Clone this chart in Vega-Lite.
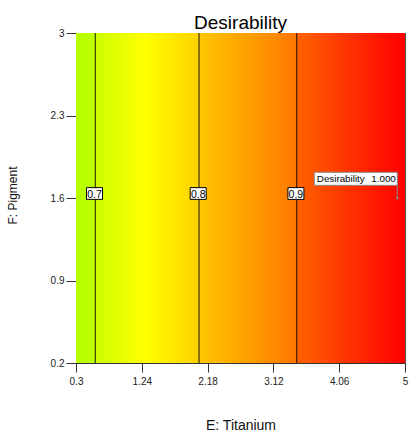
{
  "$schema": "https://vega.github.io/schema/vega-lite/v6.json",
  "width": 329,
  "height": 330,
  "autosize": "none",
  "padding": {"left": 76, "top": 33, "right": 4, "bottom": 70},
  "background": "white",
  "config": {
    "font": "Liberation Sans",
    "view": {"stroke": "#555", "strokeWidth": 1},
    "axis": {
      "grid": false,
      "domainColor": "#333",
      "tickColor": "#333",
      "labelColor": "#222",
      "labelFontSize": 10,
      "labelFlush": false,
      "labelOverlap": false,
      "titleColor": "#111",
      "titleFontWeight": "normal"
    }
  },
  "title": {
    "text": "Desirability",
    "fontSize": 19,
    "fontWeight": "normal",
    "color": "#000",
    "baseline": "bottom",
    "offset": 2,
    "dy": 26,
    "anchor": "middle",
    "frame": "group"
  },
  "datasets": {
    "region": [{"E0": 0.3, "E1": 5, "F0": 0.2, "F1": 3}],
    "contours": [
      {"level": "0.7", "E": 0.576, "F": 1.6},
      {"level": "0.8", "E": 2.057, "F": 1.6},
      {"level": "0.9", "E": 3.453, "F": 1.6}
    ],
    "flag": [{"E": 4.89, "F": 1.6, "name": "Desirability", "value": "1.000"}]
  },
  "layer": [
    {
      "data": {"name": "region"},
      "mark": {
        "type": "rect",
        "fill": {
          "gradient": "linear",
          "x1": 0, "y1": 0, "x2": 1, "y2": 0,
          "stops": [
            {"offset": 0, "color": "#b6ff00"},
            {"offset": 0.058, "color": "#bfff00"},
            {"offset": 0.059, "color": "#ccff00"},
            {"offset": 0.21, "color": "#ffff00"},
            {"offset": 0.373, "color": "#ffd200"},
            {"offset": 0.375, "color": "#ffc600"},
            {"offset": 0.67, "color": "#ff7800"},
            {"offset": 0.672, "color": "#ff6200"},
            {"offset": 1, "color": "#ff0000"}
          ]
        }
      },
      "encoding": {
        "x": {
          "field": "E0", "type": "quantitative",
          "scale": {"domain": [0.3, 5], "nice": false, "zero": false},
          "axis": {
            "title": "E: Titanium",
            "values": [0.3, 1.24, 2.18, 3.12, 4.06, 5],
            "labelExpr": "'' + datum.value",
            "tickSize": 9,
            "labelPadding": 4,
            "titleFontSize": 14,
            "titleY": 66,
            "titleBaseline": "alphabetic"
          }
        },
        "x2": {"field": "E1"},
        "y": {
          "field": "F0", "type": "quantitative",
          "scale": {"domain": [0.2, 3], "nice": false, "zero": false},
          "axis": {
            "title": "F: Pigment",
            "values": [0.2, 0.9, 1.6, 2.3, 3],
            "labelExpr": "'' + datum.value",
            "tickSize": 10,
            "labelPadding": 2,
            "titleFontSize": 12,
            "titleX": -60,
            "titleY": 162,
            "titleAngle": -90,
            "titleAlign": "center",
            "titleBaseline": "alphabetic"
          }
        },
        "y2": {"field": "F1"}
      }
    },
    {
      "data": {"name": "contours"},
      "mark": {"type": "rule", "color": "#000", "opacity": 0.75, "strokeWidth": 1.2},
      "encoding": {"x": {"field": "E", "type": "quantitative"}}
    },
    {
      "data": {"name": "contours"},
      "mark": {
        "type": "point",
        "shape": "M-1,-0.733H1V0.733H-1Z",
        "size": 256,
        "filled": true,
        "fill": "white",
        "stroke": "black",
        "strokeWidth": 1,
        "opacity": 1,
        "xOffset": -0.8,
        "yOffset": -4.5
      },
      "encoding": {
        "x": {"field": "E", "type": "quantitative"},
        "y": {"field": "F", "type": "quantitative"}
      }
    },
    {
      "data": {"name": "contours"},
      "mark": {"type": "text", "fontSize": 10.5, "align": "center", "baseline": "alphabetic", "color": "#000", "dx": -0.8},
      "encoding": {
        "x": {"field": "E", "type": "quantitative"},
        "y": {"field": "F", "type": "quantitative"},
        "text": {"field": "level"}
      }
    },
    {
      "data": {"name": "flag"},
      "mark": {
        "type": "point",
        "shape": "M-83,-25.7H0V-12.7H-83Z M0,-12.7V0",
        "size": 4,
        "filled": true,
        "fill": "white",
        "stroke": "#888",
        "strokeWidth": 1,
        "opacity": 1
      },
      "encoding": {
        "x": {"field": "E", "type": "quantitative"},
        "y": {"field": "F", "type": "quantitative"}
      }
    },
    {
      "data": {"name": "flag"},
      "mark": {"type": "point", "shape": "square", "size": 6, "filled": true, "color": "#888", "opacity": 1},
      "encoding": {
        "x": {"field": "E", "type": "quantitative"},
        "y": {"field": "F", "type": "quantitative"}
      }
    },
    {
      "data": {"name": "flag"},
      "mark": {"type": "text", "fontSize": 9.8, "align": "left", "baseline": "alphabetic", "color": "#000", "dx": -80.5, "dy": -15.7},
      "encoding": {
        "x": {"field": "E", "type": "quantitative"},
        "y": {"field": "F", "type": "quantitative"},
        "text": {"field": "name"}
      }
    },
    {
      "data": {"name": "flag"},
      "mark": {"type": "text", "fontSize": 9.8, "align": "right", "baseline": "alphabetic", "color": "#000", "dx": -1.5, "dy": -15.7},
      "encoding": {
        "x": {"field": "E", "type": "quantitative"},
        "y": {"field": "F", "type": "quantitative"},
        "text": {"field": "value"}
      }
    }
  ]
}
